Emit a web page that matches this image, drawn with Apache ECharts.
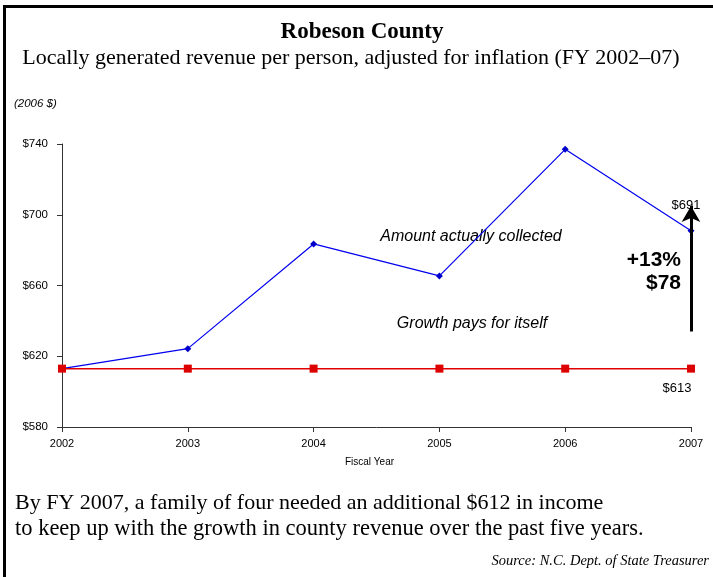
<!DOCTYPE html>
<html>
<head>
<meta charset="utf-8">
<script src="https://cdn.jsdelivr.net/npm/echarts@6/dist/echarts.min.js"></script>
<style>
html,body{margin:0;padding:0;background:#fff;}
#c{width:713px;height:577px;}
</style>
</head>
<body>
<div id="c"></div>
<script>
var years = ['2002','2003','2004','2005','2006','2007'];
var collected = [613, 624.3, 683.5, 665.4, 737, 691];
var baseline = [613, 613, 613, 613, 613, 613];
var yTicks = [580, 620, 660, 700, 740];
var arrowFrom = 634;
var arrowTo = 705;

var chart = echarts.init(document.getElementById('c'), null, {renderer:'canvas'});
var serif = '"Liberation Serif", "DejaVu Serif", serif';
var sans = '"Liberation Sans", Arial, sans-serif';

chart.setOption({
  backgroundColor: '#fff',
  animation: false,
  grid: {left: 62, right: 22, top: 144, bottom: 150, containLabel: false},
  xAxis: {
    type: 'category', data: years, boundaryGap: false,
    axisLine: {lineStyle: {color: '#333', width: 1}},
    axisTick: {show: true, length: 5, alignWithLabel: true, lineStyle: {color: '#333'}},
    axisLabel: {color: '#000', fontFamily: sans, fontSize: 11, margin: 11},
    name: 'Fiscal Year', nameLocation: 'middle', nameGap: 30,
    nameTextStyle: {fontFamily: sans, fontSize: 10, color: '#000', padding: [0, 14, 0, 0]}
  },
  yAxis: {
    type: 'value', min: yTicks[0], max: yTicks[yTicks.length-1], interval: 40,
    axisLine: {show: true, lineStyle: {color: '#333', width: 1}},
    axisTick: {show: true, length: 5, lineStyle: {color: '#333'}},
    splitLine: {show: false},
    axisLabel: {color: '#000', fontFamily: sans, fontSize: 11.5, margin: 14, formatter: function(v){return '$'+v;}}
  },
  series: [
    {
      type: 'line', data: collected, symbol: 'diamond', symbolSize: 7,
      lineStyle: {color: '#0000ee', width: 1.2}, itemStyle: {color: '#0000cc'}, z: 2,
      markLine: {
        silent: true, symbol: ['none', 'arrow'], symbolSize: [14, 16],
        label: {show: false},
        lineStyle: {color: '#000', width: 3, type: 'solid'},
        data: [[{coord: ['2007', arrowFrom]}, {coord: ['2007', arrowTo]}]]
      }
    },
    {
      type: 'line', data: baseline, symbol: 'rect', symbolSize: 8,
      lineStyle: {color: '#e00000', width: 1.5}, itemStyle: {color: '#dd0000'}, z: 3
    }
  ],
  graphic: [
    {type: 'rect', shape: {x: 3, y: 5, width: 710, height: 3}, style: {fill: '#000'}},
    {type: 'rect', shape: {x: 3, y: 5, width: 3, height: 572}, style: {fill: '#000'}},
    {type: 'text', x: 362, y: 32, style: {text: 'Robeson County', font: 'bold 23px ' + serif, fill: '#000', textAlign: 'center', textVerticalAlign: 'middle'}},
    {type: 'text', x: 351, y: 58, style: {text: 'Locally generated revenue per person, adjusted for inflation (FY 2002\u201307)', font: '22px ' + serif, fill: '#000', textAlign: 'center', textVerticalAlign: 'middle'}},
    {type: 'text', x: 14, y: 104, style: {text: '(2006 $)', font: 'italic 11.5px ' + sans, fill: '#000', textVerticalAlign: 'middle'}},
    {type: 'text', x: 471, y: 237, style: {text: 'Amount actually collected', font: 'italic 16px ' + sans, fill: '#000', textAlign: 'center', textVerticalAlign: 'middle'}},
    {type: 'text', x: 472, y: 324, style: {text: 'Growth pays for itself', font: 'italic 16px ' + sans, fill: '#000', textAlign: 'center', textVerticalAlign: 'middle'}},
    {type: 'text', x: 686, y: 205, style: {text: '$691', font: '13px ' + sans, fill: '#000', textAlign: 'center', textVerticalAlign: 'middle'}},
    {type: 'text', x: 677, y: 388, style: {text: '$613', font: '13px ' + sans, fill: '#000', textAlign: 'center', textVerticalAlign: 'middle'}},
    {type: 'text', x: 681, y: 260, style: {text: '+13%', font: 'bold 21px ' + sans, fill: '#000', textAlign: 'right', textVerticalAlign: 'middle'}},
    {type: 'text', x: 681, y: 283, style: {text: '$78', font: 'bold 21px ' + sans, fill: '#000', textAlign: 'right', textVerticalAlign: 'middle'}},
    {type: 'text', x: 15, y: 503, style: {text: 'By FY 2007, a family of four needed an additional $612 in income', font: '22px ' + serif, fill: '#000', textVerticalAlign: 'middle'}},
    {type: 'text', x: 15, y: 529, style: {text: 'to keep up with the growth in county revenue over the past five years.', font: '22.5px ' + serif, fill: '#000', textVerticalAlign: 'middle'}},
    {type: 'text', x: 709, y: 561, style: {text: 'Source: N.C. Dept. of State Treasurer', font: 'italic 14.5px ' + serif, fill: '#000', textAlign: 'right', textVerticalAlign: 'middle'}}
  ]
});
</script>
</body>
</html>
